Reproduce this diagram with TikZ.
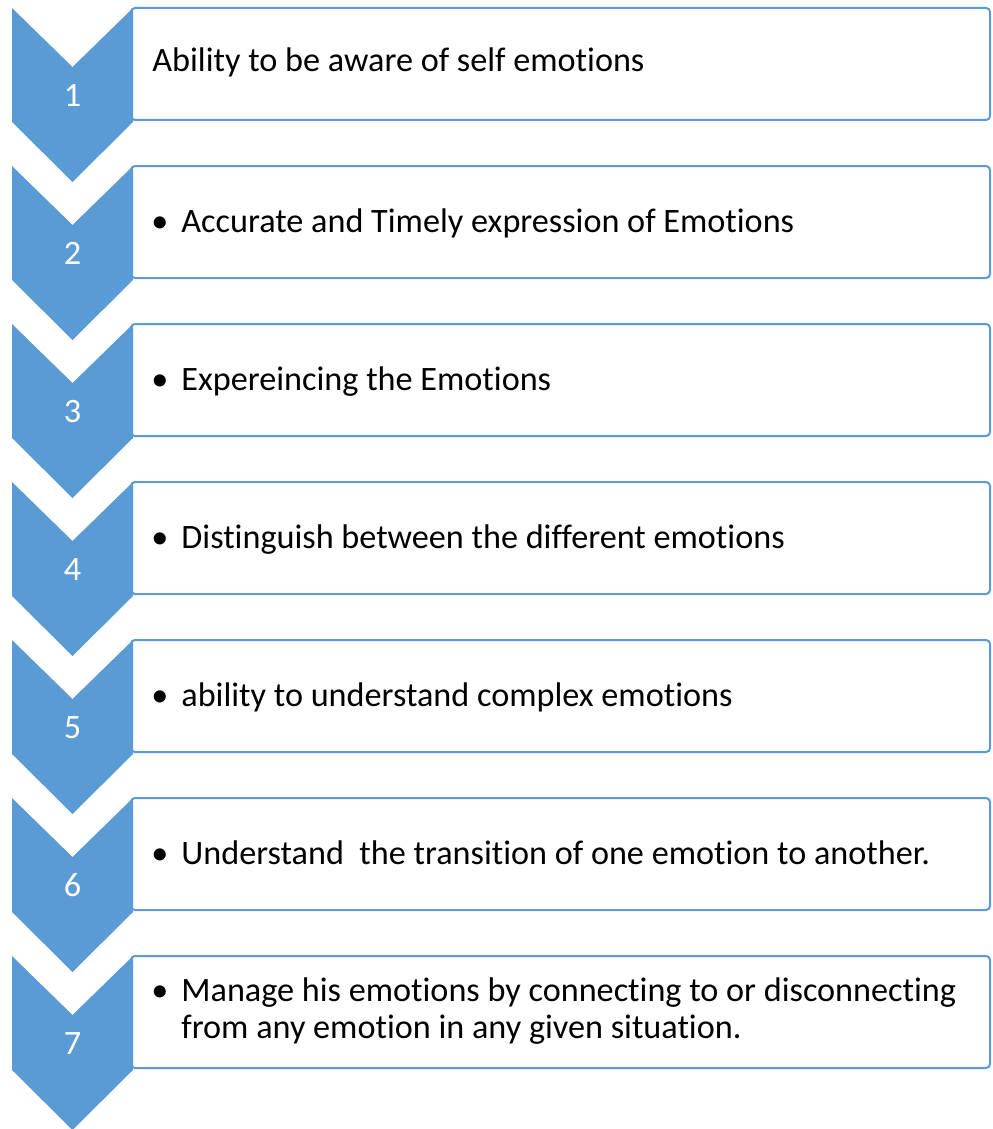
\documentclass[tikz,border=0pt]{standalone}
\usepackage{fontspec}
\setmainfont{Carlito}[Ligatures=NoCommon]
\definecolor{stepblue}{HTML}{5B9BD5}

\tikzset{
  stepnum/.style={text=white, font=\fontsize{17.1}{18.5}\selectfont, inner sep=0pt, anchor=base},
  steptext/.style={font=\fontsize{17.1}{18.5}\selectfont, inner sep=0pt, anchor=base west},
  stepframe/.style={draw=stepblue, line width=1pt, fill=white, rounded corners=2pt}
}

\begin{document}
\begin{tikzpicture}[x=0.5pt,y=-0.5pt]
\useasboundingbox (0,0) rectangle (992,1129);

% Boxes, chevrons and numbers
\foreach \i in {1,...,7} {
    \pgfmathsetmacro{\ytop}{8+158*(\i-1)}
    \draw[stepframe] (131,\ytop) rectangle (990,\ytop+112);
    \fill[stepblue] (12,\ytop) -- (72.5,\ytop+59) -- (133,\ytop) -- (133,\ytop+114)
        -- (72.5,\ytop+174) -- (12,\ytop+114) -- cycle;
    \node[stepnum] (num\i) at (72.5,\ytop+98) {\i};
}

% Texts
\node[steptext] (txt1) at (152,72) {Ability to be aware of self emotions};
\foreach \i/\txt in {2/{Accurate and Timely expression of Emotions},
                     3/{Expereincing the Emotions},
                     4/{Distinguish between the different emotions},
                     5/{ability to understand complex emotions},
                     6/{Understand\ \ the transition of one emotion to another.},
                     7/{Manage his emotions by connecting to or disconnecting\\from any emotion in any given situation.}} {
    \pgfmathsetmacro{\ybase}{8+158*(\i-1)+(\i==7 ? 45 : 66)}
    \node[steptext, anchor=base] (dot\i) at (160,\ybase) {\textbullet};
    \node[steptext] (txt\i) at (181,\ybase) {\parbox[t]{400pt}{\raggedright\txt}};
}
\end{tikzpicture}
\end{document}
